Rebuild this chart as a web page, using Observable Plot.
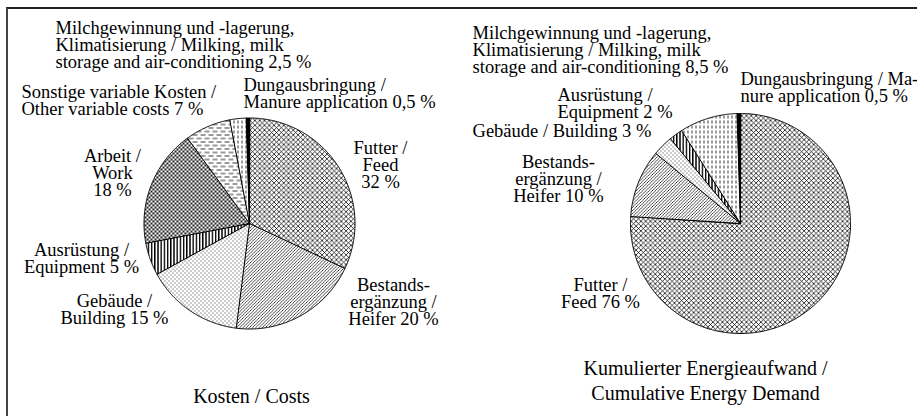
<!DOCTYPE html>
<html>
<head>
<meta charset="utf-8">
<script src="https://cdn.jsdelivr.net/npm/d3@7"></script>
<script src="https://cdn.jsdelivr.net/npm/@observablehq/plot@0.6"></script>
<style>
  html, body { margin: 0; padding: 0; background: #fff; }
  #wrap { position: relative; width: 917px; height: 416px; overflow: hidden; background: #fff; }
  #frame { position: absolute; left: 6px; top: 7px; width: 930px; height: 430px;
           border-top: 2px solid #222; border-left: 2px solid #444; box-sizing: border-box; }
  #left, #right { position: absolute; top: 0; }
  #left { left: 0; }
  #right { left: 458px; }
</style>
</head>
<body>
<div id="wrap">
  <svg width="0" height="0" style="position:absolute">
    <defs>
      <pattern id="p-cross" width="4.8" height="4.8" patternUnits="userSpaceOnUse">
        <rect width="4.8" height="4.8" fill="white"/>
        <path d="M0,0 L4.8,4.8 M4.8,0 L0,4.8" stroke="black" stroke-width="0.75"/>
      </pattern>
      <pattern id="p-diag" width="3.2" height="3.2" patternUnits="userSpaceOnUse">
        <rect width="3.2" height="3.2" fill="white"/>
        <path d="M-0.8,0.8 L0.8,-0.8 M0,3.2 L3.2,0 M2.4,4 L4,2.4" stroke="black" stroke-width="0.7"/>
      </pattern>
      <pattern id="p-dots" width="4" height="4" patternUnits="userSpaceOnUse">
        <rect width="4" height="4" fill="white"/>
        <rect x="0" y="0" width="1" height="1" fill="#333"/>
        <rect x="2" y="2" width="1" height="1" fill="#333"/>
      </pattern>
      <pattern id="p-vert" width="3.2" height="3" patternUnits="userSpaceOnUse">
        <rect width="3.2" height="3" fill="white"/>
        <rect x="0" y="0" width="1.4" height="3" fill="black"/>
      </pattern>
      <pattern id="p-dense" width="4" height="4" patternUnits="userSpaceOnUse">
        <rect width="4" height="4" fill="white"/>
        <circle cx="1" cy="1" r="1.05" fill="black"/>
        <circle cx="3" cy="3" r="1.05" fill="black"/>
      </pattern>
      <pattern id="p-hdash" width="8" height="7" patternUnits="userSpaceOnUse">
        <rect width="8" height="7" fill="white"/>
        <path d="M0,1.5 H5 M4,5 H9 M-4,5 H1" stroke="black" stroke-width="0.8"/>
      </pattern>
      <pattern id="p-vdash" width="4" height="5" patternUnits="userSpaceOnUse">
        <rect width="4" height="5" fill="white"/>
        <path d="M1.5,0 V3" stroke="black" stroke-width="0.8"/>
      </pattern>
    </defs>
  </svg>
  <div id="frame"></div>
  <div id="left"></div>
  <div id="right"></div>
</div>
<script>
// ---------- data ----------
const costCategories = ["Futter", "Bestandsergänzung", "Gebäude", "Ausrüstung", "Arbeit",
                        "Sonstige variable Kosten", "Milchgewinnung", "Dungausbringung"];
const costValues = [32, 20, 15, 5, 18, 7, 2.5, 0.5];
const costLabelTexts = [
  "Futter /\nFeed\n{v}",
  "Bestands-\nergänzung /\nHeifer {v}",
  "Gebäude /\nBuilding {v}",
  "Ausrüstung /\nEquipment {v}",
  "Arbeit /\nWork\n{v}",
  "Sonstige variable Kosten /\nOther variable costs {v}",
  "Milchgewinnung und -lagerung,\nKlimatisierung / Milking, milk\nstorage and air-conditioning {v}",
  "Dungausbringung /\nManure application {v}"
];
const costTitle = "Kosten / Costs";

const energyCategories = ["Futter", "Bestandsergänzung", "Gebäude", "Ausrüstung",
                          "Milchgewinnung", "Dungausbringung"];
const energyValues = [76, 10, 3, 2, 8.5, 0.5];
const energyLabelTexts = [
  "Futter /\nFeed {v}",
  "Bestands-\nergänzung /\nHeifer {v}",
  "Gebäude / Building {v}",
  "Ausrüstung /\nEquipment {v}",
  "Milchgewinnung und -lagerung,\nKlimatisierung / Milking, milk\nstorage and air-conditioning {v}",
  "Dungausbringung / Ma-\nnure application {v}"
];
const energyTitle = "Kumulierter Energieaufwand /\nCumulative Energy Demand";

// ---------- styles & layout ----------
const patternOf = {
  "Futter": "url(#p-cross)",
  "Bestandsergänzung": "url(#p-diag)",
  "Gebäude": "url(#p-dots)",
  "Ausrüstung": "url(#p-vert)",
  "Arbeit": "url(#p-dense)",
  "Sonstige variable Kosten": "url(#p-hdash)",
  "Milchgewinnung": "url(#p-vdash)",
  "Dungausbringung": "black"
};
// label anchors in pie-radius units (x right, y up), plus text anchor
const costLabelLayout = [
  {x: 1.242, y: 0.768, anchor: "middle"},
  {x: 1.365, y: -0.531, anchor: "middle"},
  {x: -1.280, y: -0.682, anchor: "middle"},
  {x: -1.592, y: -0.199, anchor: "middle"},
  {x: -1.299, y: 0.692, anchor: "middle"},
  {x: -2.161, y: 1.299, anchor: "start"},
  {x: -1.839, y: 1.905, anchor: "start"},
  {x: -0.057, y: 1.365, anchor: "start"}
];
const energyLabelLayout = [
  {x: -1.273, y: -0.509, anchor: "middle"},
  {x: -1.655, y: 0.609, anchor: "middle"},
  {x: -2.436, y: 0.891, anchor: "start"},
  {x: -1.664, y: 1.218, anchor: "start"},
  {x: -2.436, y: 1.782, anchor: "start"},
  {x: 0.0, y: 1.364, anchor: "start"}
];
const FONT = "'Liberation Serif', 'Times New Roman', serif";
const LABEL_SIZE = 18.5;

function fmt(v) { return String(v).replace(".", ",") + " %"; }

function piePlot({categories, values, texts, layout, title, titlePos, width, height, cx, cy, r}) {
  const total = d3.sum(values);
  const pts = [];
  let acc = 0;
  categories.forEach((c, i) => {
    const a0 = acc / total * 2 * Math.PI;
    acc += values[i];
    const a1 = acc / total * 2 * Math.PI;
    pts.push({cat: c, x: 0, y: 0});
    const n = Math.max(2, Math.ceil((a1 - a0) / (Math.PI / 360)));
    for (let k = 0; k <= n; k++) {
      const a = a0 + (a1 - a0) * k / n;
      pts.push({cat: c, x: Math.sin(a), y: Math.cos(a)});
    }
  });
  const labels = categories.map((c, i) => ({
    cat: c, text: texts[i].replace("{v}", fmt(values[i])),
    x: layout[i].x, y: layout[i].y, anchor: layout[i].anchor
  }));
  const textMark = (anchor) => Plot.text(labels.filter(d => d.anchor === anchor), {
    x: "x", y: "y", text: "text", textAnchor: anchor, lineAnchor: "top",
    fontSize: LABEL_SIZE, lineHeight: 0.91, fill: "black"
  });
  return Plot.plot({
    width, height,
    margin: 0,
    style: {fontFamily: FONT, fontSize: LABEL_SIZE + "px", background: "transparent", overflow: "visible"},
    x: {domain: [-1, 1], range: [cx - r, cx + r], axis: null},
    y: {domain: [-1, 1], range: [cy + r, cy - r], axis: null},
    color: {type: "identity"},
    marks: [
      Plot.line(pts, {x: "x", y: "y", z: "cat", fill: d => patternOf[d.cat],
                      stroke: "black", strokeWidth: 1, curve: "linear-closed"}),
      textMark("start"),
      textMark("middle"),
      Plot.text([title], {x: titlePos.x, y: titlePos.y, text: d => d, textAnchor: "middle",
                          lineAnchor: "top", fontSize: 20, lineHeight: 1.25, fill: "black"})
    ]
  });
}

document.getElementById("left").append(piePlot({
  categories: costCategories, values: costValues, texts: costLabelTexts,
  layout: costLabelLayout, title: costTitle, titlePos: {x: 0.019, y: -1.53},
  width: 458, height: 416, cx: 249, cy: 223, r: 105.5
}));
document.getElementById("right").append(piePlot({
  categories: energyCategories, values: energyValues, texts: energyLabelTexts,
  layout: energyLabelLayout, title: energyTitle, titlePos: {x: -0.318, y: -1.218},
  width: 459, height: 416, cx: 282, cy: 223, r: 110
}));
</script>
</body>
</html>
